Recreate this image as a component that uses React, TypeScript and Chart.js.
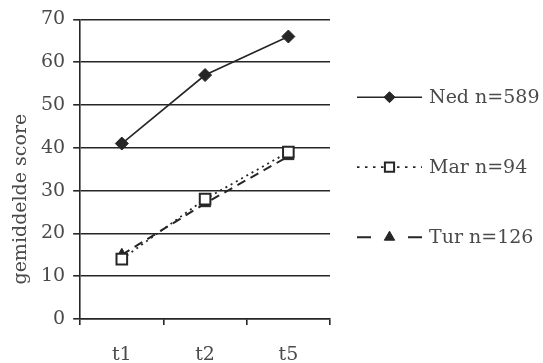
import React, { useEffect, useRef } from "react";
import { Chart, registerables } from "chart.js";
import { drawPoint } from "chart.js/helpers";

Chart.register(...registerables);

const categories = ["t1", "t2", "t5"];
const seriesNames = ["Ned n=589", "Mar n=94", "Tur n=126"];
const nedValues = [41, 57, 66];
const marValues = [14, 28, 39];
const turValues = [15, 27, 38];
const yTicks = [0, 10, 20, 30, 40, 50, 60, 70];
const yTitle = "gemiddelde score";

const FONT = "'DejaVu Serif', 'Liberation Serif', serif";
const TEXT = "#4a4a4a";
const LINE = "#262626";

const legendPlugin = {
  id: "sideLegend",
  afterDraw(chart: any) {
    const ctx = chart.ctx;
    const area = chart.chartArea;
    const mid = (area.top + area.bottom) / 2 - 2;
    const x0 = area.right + 27;
    const x1 = x0 + 65;
    chart.data.datasets.forEach((ds: any, i: number) => {
      const y = mid + (i - 1) * 70;
      ctx.save();
      ctx.strokeStyle = ds.borderColor;
      ctx.lineWidth = ds.borderWidth;
      ctx.setLineDash(ds.legendDash || ds.borderDash || []);
      ctx.beginPath();
      ctx.moveTo(x0, y);
      ctx.lineTo(x1, y);
      ctx.stroke();
      ctx.setLineDash([]);
      ctx.fillStyle = ds.pointBackgroundColor;
      ctx.strokeStyle = ds.pointBorderColor;
      ctx.lineWidth = ds.pointBorderWidth;
      drawPoint(
        ctx,
        {
          pointStyle: ds.pointStyle,
          radius: ds.legendRadius || ds.pointRadius,
          borderWidth: ds.pointBorderWidth,
          rotation: 0,
        } as any,
        (x0 + x1) / 2,
        y
      );
      ctx.fillStyle = TEXT;
      ctx.font = `19px ${FONT}`;
      ctx.textBaseline = "middle";
      ctx.textAlign = "left";
      ctx.fillText(ds.label, x1 + 7, y + 1);
      ctx.restore();
    });
    // y-axis title
    ctx.save();
    ctx.fillStyle = TEXT;
    ctx.font = `19px ${FONT}`;
    ctx.textAlign = "center";
    ctx.textBaseline = "middle";
    ctx.translate(21, area.top + (area.bottom - area.top) * 0.6);
    ctx.rotate(-Math.PI / 2);
    ctx.fillText(yTitle, 0, 0);
    ctx.restore();
  },
};

export default function App() {
  const ref = useRef<HTMLCanvasElement>(null);
  useEffect(() => {
    if (!ref.current) return;
    const chart = new Chart(ref.current, {
      type: "line",
      data: {
        labels: categories,
        datasets: [
          {
            label: seriesNames[0],
            data: nedValues,
            borderColor: LINE,
            borderWidth: 1.6,
            pointStyle: "rectRot",
            pointRadius: 6.5,
            pointBackgroundColor: LINE,
            pointBorderColor: LINE,
            pointBorderWidth: 1,
            legendRadius: 5.5,
          },
          {
            label: seriesNames[1],
            data: marValues,
            borderColor: LINE,
            borderWidth: 1.8,
            borderDash: [2, 4],
            legendDash: [2.5, 5.5],
            pointStyle: "rect",
            pointRadius: 7.5,
            pointBackgroundColor: "#ffffff",
            pointBorderColor: LINE,
            pointBorderWidth: 2,
            legendRadius: 6.5,
          },
          {
            label: seriesNames[2],
            data: turValues,
            borderColor: LINE,
            borderWidth: 2,
            borderDash: [9, 6],
            legendDash: [14, 37],
            pointStyle: "triangle",
            pointRadius: 6.5,
            pointBackgroundColor: LINE,
            pointBorderColor: LINE,
            pointBorderWidth: 1,
            legendRadius: 6,
          } as any,
        ],
      },
      options: {
        responsive: false,
        animation: false,
        devicePixelRatio: 1,
        layout: { padding: { top: 14, right: 213, left: 33, bottom: -23 } },
        plugins: {
          legend: { display: false },
          tooltip: { enabled: false },
        },
        scales: {
          x: {
            offset: true,
            grid: {
              offset: true,
              drawOnChartArea: false,
              drawTicks: true,
              tickLength: 6,
              color: LINE,
              lineWidth: 1.6,
            },
            border: { display: true, color: LINE, width: 1.6 },
            ticks: {
              color: TEXT,
              font: { family: FONT, size: 19, lineHeight: 1 },
              padding: 21,
            },
          },
          y: {
            min: 0,
            max: 70,
            afterBuildTicks: (axis: any) => {
              axis.ticks = yTicks.map((v) => ({ value: v }));
            },
            grid: {
              color: LINE,
              lineWidth: 1.6,
              tickLength: 7,
            },
            border: { display: true, color: LINE, width: 1.6 },
            ticks: {
              color: TEXT,
              font: { family: FONT, size: 19 },
              padding: 8,
            },
          },
        },
      },
      plugins: [legendPlugin],
    });
    return () => chart.destroy();
  }, []);
  return (
    <div style={{ position: "fixed", left: 0, top: 0, width: 543, height: 363, background: "#fff" }}>
      <canvas ref={ref} width={543} height={363} />
    </div>
  );
}
